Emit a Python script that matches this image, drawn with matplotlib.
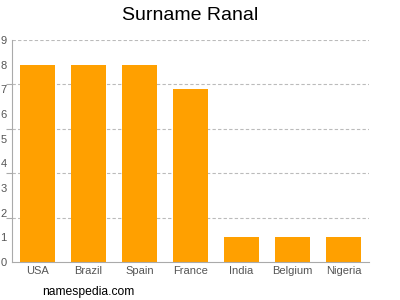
import matplotlib
matplotlib.use("Agg")
import matplotlib.pyplot as plt
from matplotlib.ticker import FixedLocator

countries = ["USA", "Brazil", "Spain", "France", "India", "Belgium", "Nigeria"]
values = [8, 8, 8, 7, 1, 1, 1]
yticks = list(range(0, 10))
grid_levels = [1.8, 3.6, 5.4, 7.2, 9.0]

plt.rcParams['font.family'] = ['Liberation Sans', 'DejaVu Sans']
fig = plt.figure(figsize=(4, 3), dpi=100)
ax = fig.add_axes([0.03, 0.1267, 0.8925, 0.74])
x = list(range(len(countries)))
ax.bar(x, values, width=0.69, color="#ffa000", zorder=2)
ax.set_xlim(-0.5, 6.5)
ax.set_ylim(0, 9)
ax.set_yticks(yticks)
ax.yaxis.set_minor_locator(FixedLocator(grid_levels))
ax.set_xticks(x)
ax.set_xticklabels(countries)
for g in grid_levels:
    ax.axhline(g, color="#bbbbbb", linestyle=(0, (3, 2)), linewidth=0.8, zorder=1)
for s in ["top", "right"]:
    ax.spines[s].set_visible(False)
for s in ["left", "bottom"]:
    ax.spines[s].set_color("#aaaaaa")
    ax.spines[s].set_linewidth(0.8)
ax.tick_params(axis="both", colors="#aaaaaa", labelcolor="#555555", labelsize=8, width=0.8)
ax.tick_params(axis="y", which="major", length=0, pad=4)
ax.tick_params(axis="y", which="minor", length=4, color="#aaaaaa", width=0.8)
ax.tick_params(axis="x", length=0, pad=3)
fig.text(0.475, 0.95, "Surname Ranal", ha="center", va="center", fontsize=14)
fig.text(0.105, 0.027, "namespedia.com", ha="left", va="center", fontsize=8.7)
fig.savefig("out.png", dpi=100)
